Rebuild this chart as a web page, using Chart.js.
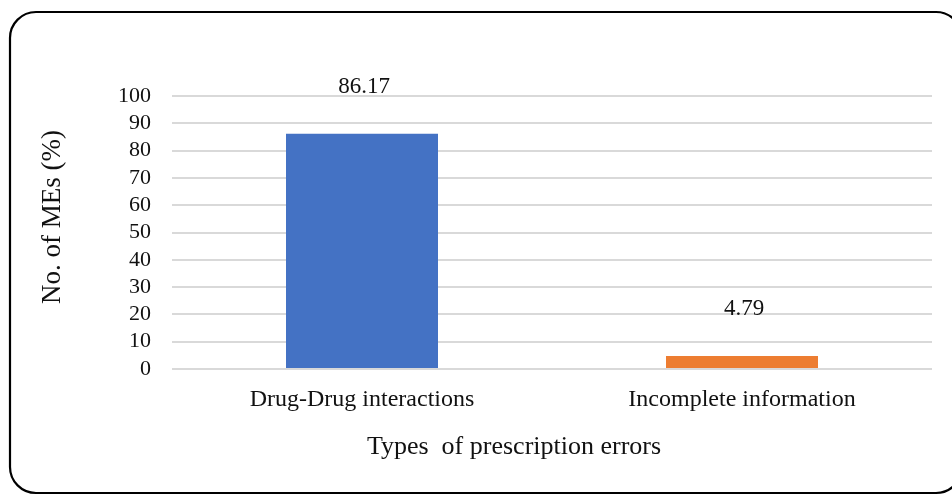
<!DOCTYPE html>
<html>
<head>
<meta charset="utf-8">
<script src="https://cdn.jsdelivr.net/npm/chart.js@4/dist/chart.umd.min.js"></script>
<style>
  html, body { margin: 0; padding: 0; background: #fff; }
  #wrap { width: 952px; height: 495px; position: relative; }
</style>
</head>
<body>
<div id="wrap"><canvas id="c" width="952" height="495"></canvas></div>
<script>
// Prescription error types and their share of medication errors (%)
const categories = ['Drug-Drug interactions', 'Incomplete information'];
const percentages = [86.17, 4.79];
const barColors = ['#4472C4', '#ED7D31'];
const yTitle = 'No. of MEs (%)';
const xTitle = 'Types  of prescription errors';

const SERIF = '"Liberation Serif", "Times New Roman", serif';
const TEXT = '#111';

// Rounded frame, axis titles and value labels
const decorations = {
  id: 'decorations',
  beforeDraw(chart) {
    const ctx = chart.ctx;
    ctx.save();
    ctx.fillStyle = '#fff';
    ctx.fillRect(0, 0, chart.width, chart.height);
    ctx.restore();
  },
  afterDraw(chart) {
    const ctx = chart.ctx;
    ctx.save();
    // frame
    ctx.strokeStyle = '#000';
    ctx.lineWidth = 2.2;
    ctx.beginPath();
    ctx.roundRect(10, 12, 952, 481, 26);
    ctx.stroke();

    // axis titles
    ctx.fillStyle = TEXT;
    ctx.font = '26px ' + SERIF;
    ctx.textAlign = 'center';
    ctx.textBaseline = 'middle';
    ctx.fillText(xTitle, 514, 447);
    ctx.save();
    ctx.translate(53, 217);
    ctx.rotate(-Math.PI / 2);
    ctx.font = '27px ' + SERIF;
    ctx.fillText(yTitle, 0, 0);
    ctx.restore();

    // value labels above bars
    ctx.font = '23px ' + SERIF;
    const meta = chart.getDatasetMeta(0);
    meta.data.forEach((bar, i) => {
      ctx.fillText(percentages[i].toFixed(2), bar.x + 2, bar.y - 47);
    });
    ctx.restore();
  }
};

new Chart(document.getElementById('c'), {
  type: 'bar',
  data: {
    labels: categories,
    datasets: [{
      data: percentages,
      backgroundColor: barColors,
      borderWidth: 0,
      categoryPercentage: 1,
      barPercentage: 0.4
    }]
  },
  options: {
    responsive: false,
    animation: false,
    events: [],
    layout: { padding: { top: 96, right: 20, left: 0, bottom: 0 } },
    plugins: { legend: { display: false }, tooltip: { enabled: false } },
    scales: {
      x: {
        grid: { display: false },
        border: { display: false },
        ticks: {
          color: TEXT,
          font: { family: SERIF, size: 24 },
          padding: 8,
          maxRotation: 0
        },
        afterFit(scale) { scale.height = 126; }
      },
      y: {
        min: 0,
        max: 100,
        grid: { color: '#d9d9d9', lineWidth: 2, drawTicks: false },
        border: { display: false },
        ticks: {
          stepSize: 10,
          autoSkip: false,
          color: TEXT,
          font: { family: SERIF, size: 22 },
          padding: 21
        },
        afterFit(scale) { scale.width = 172; }
      }
    }
  },
  plugins: [decorations]
});
</script>
</body>
</html>
